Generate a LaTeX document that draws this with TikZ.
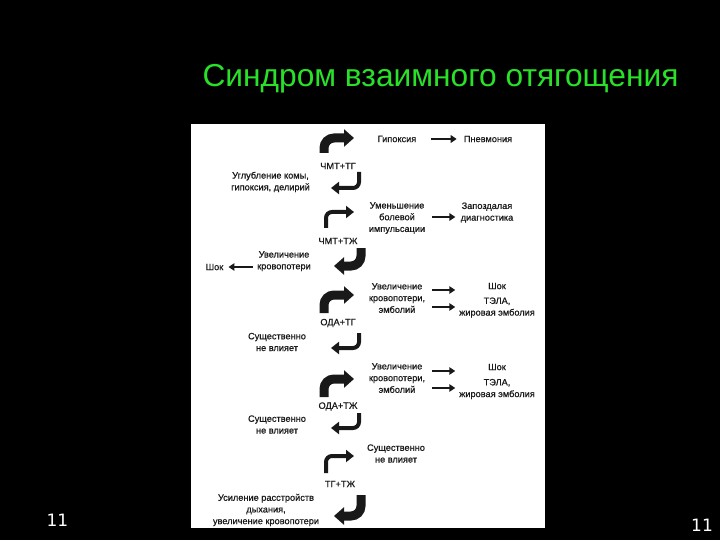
\documentclass[tikz,border=0pt]{standalone}
\usepackage{fontspec}
\setmainfont{Liberation Sans}
\newfontfamily\numfont{DejaVu Sans}
\newfontfamily\scanfont[FakeBold=0.7]{Liberation Sans}
\usetikzlibrary{arrows.meta}
\definecolor{titlegreen}{RGB}{40,225,40}
\definecolor{inkc}{RGB}{25,25,25}
\begin{document}
\begin{tikzpicture}[x=1pt,y=-1pt,
  txt/.style={font=\scanfont\fontsize{9.2}{11.7}\selectfont, align=center, inner sep=1pt, text=inkc},
  bigup/.style={draw=inkc, line width=9pt, rounded corners=10pt, -{Triangle[length=10pt,width=17pt]}},
  smallup/.style={draw=inkc, line width=4pt, rounded corners=6pt, -{Triangle[length=8pt,width=12pt]}},
  conn/.style={draw=inkc, line width=2.4pt, -{Triangle[length=6pt,width=7.5pt]}},
]
\fill[black] (0,0) rectangle (720,540);
\useasboundingbox (0,0) rectangle (720,540);
\fill[white] (191,124) rectangle (545,528);

% title and page numbers
\node[anchor=base, text=titlegreen, font=\fontsize{31.7}{36}\selectfont, inner sep=0pt] (title) at (440.5,87) {Синдром взаимного отягощения};
\node[anchor=base, text=white, font=\numfont\fontsize{17}{20}\selectfont, inner sep=0pt] (numl) at (57.5,526) {11};
\node[anchor=base, text=white, font=\numfont\fontsize{17}{20}\selectfont, inner sep=0pt] (numr) at (702,531) {11};

% curved arrows (centre column)
\draw[bigup] (324,153) -- (324,138) -- (354,138);
\draw[smallup] (359,172) -- (359,188) -- (331,188);
\draw[smallup] (326,228) -- (326,212) -- (354,212);
\draw[bigup] (361,248) -- (361,266) -- (334,266);
\draw[bigup] (324,313) -- (324,295) -- (354,295);
\draw[smallup] (359,333) -- (359,348) -- (331,348);
\draw[bigup] (324,397) -- (324,379) -- (354,379);
\draw[smallup] (359,413) -- (359,428) -- (331,428);
\draw[smallup] (326,473) -- (326,456) -- (354,456);
\draw[bigup] (361,495) -- (361,516) -- (334,516);

% centre labels
\node[txt] (c1) at (338,166) {ЧМТ+ТГ};
\node[txt] (c2) at (338,241) {ЧМТ+ТЖ};
\node[txt] (c3) at (338,323) {ОДА+ТГ};
\node[txt] (c4) at (338,406.5) {ОДА+ТЖ};
\node[txt] (c5) at (340,484) {ТГ+ТЖ};

% left texts
\node[txt] (l1) at (270.5,182) {Углубление комы,\\гипоксия, делирий};
\node[txt] (l2) at (284,261.2) {Увеличение\\кровопотери};
\node[txt] (shock0) at (214.5,267) {Шок};
\node[txt] (l3) at (277,342) {Существенно\\не влияет};
\node[txt] (l4) at (277,424.5) {Существенно\\не влияет};
\node[txt] (l5) at (266,510) {Усиление расстройств\\дыхания,\\увеличение кровопотери};

\draw[conn, shorten >=4pt] ([xshift=-3pt,yshift=-5.8pt]l2.west) -- (shock0.east);

% right texts
\node[txt] (hyp) at (397,139) {Гипоксия};
\node[txt] (pneu) at (488,139) {Пневмония};
\draw[conn] ([xshift=14pt]hyp.east) -- ([xshift=-6pt]pneu.west);

\node[txt] (pain) at (397,218) {Уменьшение\\болевой\\импульсации};
\node[txt] (late) at (487,212.5) {Запоздалая\\диагностика};
\draw[conn] ([xshift=6pt,yshift=1pt]pain.east) -- ++(23,0);

\node[txt] (b1) at (397,298) {Увеличение\\кровопотери,\\эмболий};
\node[txt] (s1) at (497,286) {Шок};
\node[txt] (e1) at (497,307.5) {ТЭЛА,\\жировая эмболия};
\draw[conn] ([xshift=6pt,yshift=8pt]b1.east) -- ++(23,0);
\draw[conn] ([xshift=6pt,yshift=-9pt]b1.east) -- ++(23,0);

\node[txt] (b2) at (397,378) {Увеличение\\кровопотери,\\эмболий};
\node[txt] (s2) at (497,367) {Шок};
\node[txt] (e2) at (497,389) {ТЭЛА,\\жировая эмболия};
\draw[conn] ([xshift=6pt,yshift=7pt]b2.east) -- ++(23,0);
\draw[conn] ([xshift=6pt,yshift=-10pt]b2.east) -- ++(23,0);

\node[txt] (r5) at (396,453.5) {Существенно\\не влияет};
\end{tikzpicture}
\end{document}
